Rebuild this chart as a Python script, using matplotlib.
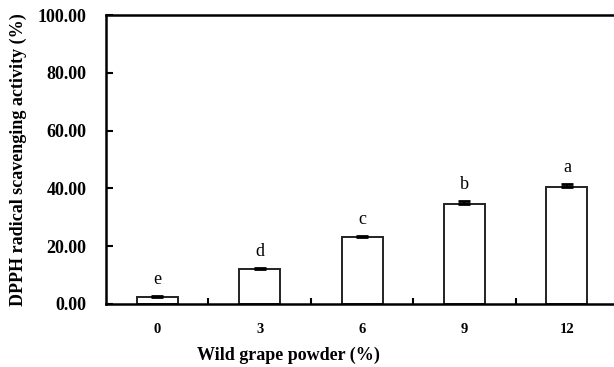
import matplotlib
matplotlib.use("Agg")
import matplotlib.pyplot as plt
import numpy as np

powder = ['0', '3', '6', '9', '12']
dpph = [2.5, 12.0, 23.2, 34.7, 40.4]
err = [0.3, 0.3, 0.3, 0.8, 1.1]
letters = ['e', 'd', 'c', 'b', 'a']

plt.rcParams['font.family'] = ['Liberation Serif', 'DejaVu Serif']

fig = plt.figure(figsize=(6.14, 3.67), dpi=100)
ax = fig.add_axes([0.1726, 0.1717, 0.8274, 0.7871])

x = np.arange(len(powder))
# only the upper half of the error bar is drawn
ax.bar(x, dpph, width=0.4, color='white', edgecolor='#222222', linewidth=1.4,
       yerr=[np.zeros(len(err)), err],
       error_kw=dict(ecolor='black', elinewidth=1.4, capsize=4, capthick=2))

for xi, v, e, l in zip(x, dpph, err, letters):
    ax.annotate(l, (xi, v + e), xytext=(0, 6), textcoords='offset points',
                ha='center', va='bottom', fontsize=13)

ax.set_xlim(-0.5, 4.46)
ax.set_ylim(0, 100)
ax.set_yticks(np.arange(0, 101, 20))
ax.set_yticklabels(['%.2f' % t for t in np.arange(0, 101, 20)], fontweight='bold', fontsize=13)
ax.set_xticks(x)
ax.set_xticklabels(powder, fontweight='bold', fontsize=10.5)
ax.set_xticks(x[:-1] + 0.5, minor=True)
ax.tick_params(axis='x', which='major', length=0, pad=14)
ax.tick_params(axis='x', which='minor', direction='in', length=4, width=1.5)
ax.tick_params(axis='y', direction='in', length=5, width=1.5, pad=14)

ax.spines['right'].set_visible(False)
for s in ['left', 'top', 'bottom']:
    ax.spines[s].set_linewidth(1.8)

ax.set_xlabel('Wild grape powder (%)', fontweight='bold', fontsize=13)
ax.xaxis.set_label_coords(0.36, -0.148)
ax.set_ylabel('DPPH radical scavenging activity (%)', fontweight='bold', fontsize=13, labelpad=8)

fig.savefig('out.png', dpi=100)
